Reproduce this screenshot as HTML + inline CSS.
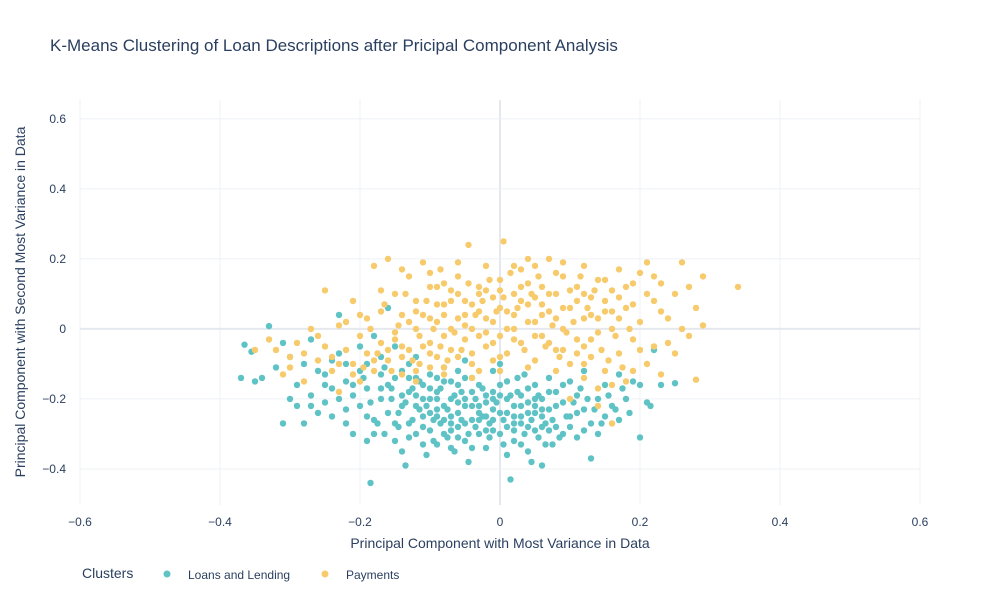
<!DOCTYPE html>
<html><head><meta charset="utf-8"><style>
body{margin:0;background:#fff;font-family:"Liberation Sans",sans-serif;}
svg text{font-family:"Liberation Sans",sans-serif;fill:#2a3f5f;}
</style></head><body>
<svg id="chart" width="1000" height="600">
<rect width="1000" height="600" fill="#fff"/>
<text x="50" y="51" font-size="17">K-Means Clustering of Loan Descriptions after Pricipal Component Analysis</text>
<g id="grid"></g>
<g id="marks"></g>
<g id="ticks"></g>
<text x="500" y="548" font-size="14" text-anchor="middle">Principal Component with Most Variance in Data</text>
<text transform="translate(25,302) rotate(-90)" font-size="14" text-anchor="middle">Principal Component with Second Most Variance in Data</text>
<g>
<text x="82" y="578" font-size="14">Clusters</text>
<g><circle cx="167" cy="574" r="3.5" fill="#5fc3c6"/><text x="188" y="579" font-size="12">Loans and Lending</text></g>
<g><circle cx="325" cy="574" r="3.5" fill="#f7cb6c"/><text x="346" y="579" font-size="12">Payments</text></g>
</g>
</svg>
<script>
const xTicks=[-0.6,-0.4,-0.2,0,0.2,0.4,0.6];
const yTicks=[-0.4,-0.2,0,0.2,0.4,0.6];
const loansX1=[-0.37,-0.365,-0.355,-0.35,-0.34,-0.33,-0.32,-0.31,-0.31,-0.3,-0.3,-0.29,-0.29,-0.28,-0.28,-0.27,-0.27,-0.26,-0.25,-0.25,-0.24,-0.24,-0.23,-0.23,-0.22,-0.22,-0.21,-0.21,-0.2,-0.2,-0.19,-0.19,-0.185,-0.18,-0.18,-0.17,-0.17,-0.16,-0.16,-0.15,-0.15,-0.14,-0.14,-0.135,-0.13,-0.13,-0.12,-0.12,-0.11,-0.11,-0.105,-0.1,-0.1,-0.1,-0.09,-0.09,-0.085,-0.08,-0.08,-0.075,-0.07,-0.07,-0.065,-0.06,-0.06,-0.055,-0.05,-0.05,-0.045,-0.04,-0.04,-0.035,-0.03,-0.03,-0.025,-0.02,-0.02,-0.015,-0.01,-0.01,0,0,0.005,0.01,0.01,0.015,0.02,0.02,0.025,0.03,0.03,0.035,0.04,0.04,0.045,0.05,0.05,0.055,0.06,0.06,0.065,0.07,0.07,0.075,0.08,0.08,0.09,0.09,0.1,0.1,0.11,0.11,0.12,0.12,0.13,0.13,0.14,0.14,0.15,0.15,0.16,0.17,0.17,0.18,0.19,0.2,0.2,0.21,0.215,0.23,0.25,0.22,-0.16,-0.14,-0.13,-0.12,-0.11,-0.1,-0.09,-0.09,-0.08,-0.07,-0.07,-0.06,-0.05,-0.04,-0.03,-0.02,-0.01,-0.01,0.01,0.02,0.03,0.04,0.05,0.06,0.07,-0.17,-0.19,-0.2,-0.22,-0.18,-0.15,-0.12,-0.05,0,-0.06,-0.095,-0.115,-0.125,-0.145,-0.155];
const loansY1=[-0.14,-0.045,-0.065,-0.15,-0.14,0.008,-0.11,-0.04,-0.27,-0.2,-0.08,-0.16,-0.22,-0.27,-0.1,-0.03,-0.19,-0.24,-0.13,-0.21,-0.17,-0.25,-0.07,0.04,-0.27,-0.15,-0.19,-0.3,-0.12,-0.22,-0.32,-0.17,-0.44,-0.26,-0.3,-0.08,-0.2,0.06,-0.24,-0.14,-0.32,-0.35,-0.19,-0.39,-0.27,-0.1,-0.22,-0.3,-0.16,-0.25,-0.36,-0.13,-0.2,-0.29,-0.23,-0.33,-0.17,-0.26,-0.11,-0.31,-0.2,-0.15,-0.35,-0.24,-0.28,-0.18,-0.22,-0.32,-0.38,-0.14,-0.26,-0.2,-0.3,-0.24,-0.17,-0.34,-0.21,-0.27,-0.12,-0.23,-0.3,-0.19,-0.26,-0.36,-0.15,-0.43,-0.22,-0.29,-0.18,-0.25,-0.33,-0.13,-0.21,-0.28,-0.38,-0.16,-0.24,-0.31,-0.2,-0.39,-0.27,-0.14,-0.23,-0.33,-0.18,-0.28,-0.21,-0.3,-0.15,-0.25,-0.19,-0.31,-0.23,-0.12,-0.37,-0.27,-0.2,-0.3,-0.16,-0.25,-0.22,-0.13,-0.26,-0.2,-0.15,-0.31,-0.16,-0.21,-0.22,-0.16,-0.155,-0.06,-0.16,-0.22,-0.18,-0.14,-0.2,-0.24,-0.18,-0.14,-0.22,-0.25,-0.29,-0.16,-0.27,-0.18,-0.22,-0.25,-0.18,-0.29,-0.2,-0.25,-0.19,-0.24,-0.2,-0.25,-0.29,-0.13,-0.1,-0.05,-0.1,-0.02,-0.05,-0.08,-0.09,-0.1,-0.12,-0.26,-0.23,-0.17,-0.28,-0.2];
const loansX2=[-0.195,-0.185,-0.175,-0.165,-0.165,-0.155,-0.145,-0.14,-0.135,-0.13,-0.125,-0.12,-0.115,-0.11,-0.105,-0.1,-0.095,-0.09,-0.085,-0.08,-0.075,-0.07,-0.065,-0.06,-0.055,-0.05,-0.045,-0.04,-0.035,-0.03,-0.025,-0.02,-0.015,-0.01,-0.005,0,0.005,0.01,0.015,0.02,0.025,0.03,0.035,0.04,0.045,0.05,0.055,0.06,0.065,0.07,0.075,0.08,0.085,0.09,0.095,0.1,0.105,0.11,0.115,0.12,0.125,0.135,0.145,0.155,0.165,0.175,0.185,-0.21,-0.23,-0.25,-0.27,-0.26,-0.22,-0.24,-0.19,-0.17,-0.15,-0.13,-0.11,-0.08,-0.06,-0.04,-0.02,0,0.02,0.04,0.06,-0.09,-0.07,-0.05,-0.03,-0.01,0.01,0.03,0.05];
const loansY2=[-0.14,-0.21,-0.27,-0.11,-0.3,-0.17,-0.24,-0.12,-0.21,-0.31,-0.26,-0.19,-0.15,-0.28,-0.22,-0.17,-0.32,-0.2,-0.27,-0.15,-0.23,-0.34,-0.19,-0.21,-0.26,-0.14,-0.3,-0.22,-0.28,-0.16,-0.25,-0.19,-0.31,-0.26,-0.21,-0.16,-0.33,-0.24,-0.19,-0.27,-0.14,-0.22,-0.3,-0.17,-0.26,-0.29,-0.19,-0.23,-0.33,-0.18,-0.26,-0.22,-0.31,-0.16,-0.25,-0.28,-0.21,-0.24,-0.17,-0.29,-0.2,-0.23,-0.27,-0.19,-0.23,-0.17,-0.24,-0.16,-0.2,-0.16,-0.22,-0.12,-0.23,-0.09,-0.25,-0.17,-0.27,-0.14,-0.33,-0.3,-0.31,-0.34,-0.29,-0.24,-0.32,-0.35,-0.28,-0.25,-0.27,-0.2,-0.26,-0.2,-0.28,-0.27,-0.22];
const payX1=[-0.35,-0.33,-0.31,-0.3,-0.29,-0.28,-0.27,-0.26,-0.25,-0.25,-0.24,-0.23,-0.23,-0.22,-0.21,-0.21,-0.2,-0.2,-0.19,-0.19,-0.18,-0.18,-0.17,-0.17,-0.16,-0.16,-0.15,-0.15,-0.14,-0.14,-0.13,-0.13,-0.12,-0.12,-0.115,-0.11,-0.11,-0.1,-0.1,-0.09,-0.09,-0.085,-0.08,-0.08,-0.07,-0.07,-0.06,-0.06,-0.05,-0.05,-0.045,-0.04,-0.04,-0.03,-0.03,-0.02,-0.02,-0.01,-0.01,0,0,0.005,0.01,0.01,0.02,0.02,0.03,0.03,0.04,0.04,0.05,0.05,0.06,0.06,0.07,0.07,0.08,0.08,0.09,0.09,0.1,0.1,0.11,0.11,0.12,0.12,0.13,0.13,0.14,0.14,0.15,0.15,0.16,0.16,0.17,0.17,0.18,0.18,0.19,0.19,0.2,0.2,0.21,0.21,0.22,0.22,0.23,0.23,0.24,0.25,0.25,0.26,0.26,0.27,0.28,0.28,0.29,0.29,0.34,0.16,0.14,0.1,-0.15,-0.13,-0.11,-0.1,-0.09,-0.08,-0.07,-0.06,-0.05,-0.04,-0.03,-0.02,-0.01,0,0.02,0.03,0.05,0.06,0.08,-0.12,-0.16,-0.18,-0.2,-0.08,-0.03,0,0.04,0.07,0.09,0.12,0.13,0.15,0.17,0.11,-0.14,-0.1];
const payY1=[-0.06,-0.03,-0.13,-0.08,-0.04,-0.15,0,-0.09,0.11,-0.05,-0.12,0.01,-0.18,-0.06,0.08,-0.1,-0.02,-0.15,0.03,-0.07,0.18,-0.12,0.05,-0.04,0.2,-0.09,0.1,-0.01,-0.13,0.04,0.15,-0.06,0,0.08,-0.1,0.19,0.04,-0.04,0.12,0.02,-0.08,0.17,0.07,-0.02,0.11,-0.06,0.03,0.15,-0.03,0.08,0.24,0,-0.1,0.12,0.05,-0.05,0.18,0.02,0.09,-0.02,0.14,0.25,0.05,-0.07,0.1,0,0.17,-0.04,0.07,0.2,0.02,-0.09,0.12,-0.02,0.2,0.05,-0.06,0.1,0,0.15,-0.1,0.06,0.12,-0.03,0.18,0.03,-0.08,0.09,0.14,-0.01,0.05,-0.12,0.11,0,0.17,-0.07,0.06,-0.15,0.13,-0.03,0.02,0.16,-0.1,0.19,0.08,-0.05,0.13,-0.13,0.03,0.1,-0.07,0.19,0,0.12,0.06,-0.145,0.15,0.01,0.12,-0.27,-0.22,-0.2,-0.03,0.02,-0.05,0.03,0.07,-0.11,0,-0.08,0.04,0.07,-0.02,0.03,-0.09,0.06,0.04,0.08,0.09,0.04,0.03,-0.12,-0.06,-0.09,0.04,0.13,0.1,0.11,0.13,-0.04,-0.06,-0.05,0.04,0.08,0.03,0.08,-0.08,-0.07];
const payX2=[-0.195,-0.185,-0.175,-0.165,-0.155,-0.145,-0.14,-0.135,-0.125,-0.12,-0.115,-0.105,-0.1,-0.095,-0.09,-0.085,-0.08,-0.075,-0.07,-0.065,-0.06,-0.055,-0.05,-0.045,-0.04,-0.035,-0.03,-0.025,-0.02,-0.015,-0.01,-0.005,0,0.005,0.01,0.015,0.02,0.025,0.03,0.035,0.04,0.045,0.05,0.055,0.06,0.065,0.07,0.075,0.08,0.085,0.09,0.095,0.1,0.105,0.11,0.115,0.12,0.125,0.13,0.135,0.14,0.145,0.15,0.155,0.16,0.165,0.17,0.175,0.18,0.185,0.19,0.2,0.21,0.22,0.24,0.23,0.27,-0.22,-0.24,-0.26,-0.28,-0.3,-0.32,-0.21,-0.23,-0.17,-0.14,-0.1,-0.06,-0.02,0.02,0.05,0.09,0.12,-0.12,-0.08,-0.04,0,0.04,0.08,0.12,0.16,0.19,0.14];
const payY2=[-0.11,0,-0.07,0.07,-0.12,0.01,-0.05,0.1,-0.09,0.05,-0.02,0.08,-0.11,0,0.12,-0.05,0.04,-0.09,0.08,-0.01,0.1,-0.06,0.01,0.13,-0.07,0.04,-0.12,0.08,-0.01,0.14,-0.04,0.05,-0.08,0.09,0,0.16,-0.03,0.06,0.12,-0.06,0.02,0.1,-0.02,0.15,0.07,-0.05,0.1,0.01,0.16,-0.08,0.06,-0.01,0.11,0.02,-0.07,0.15,-0.1,0.06,-0.03,0.11,0.03,-0.06,0.14,-0.09,0.05,-0.02,0.09,-0.11,0.12,0,0.07,-0.06,0.1,0.15,-0.04,0.05,-0.02,0.02,-0.08,-0.02,-0.07,-0.11,-0.06,-0.13,-0.1,0.11,0.17,0.16,0.19,0.11,0.18,0.18,0.19,0.1,-0.15,-0.13,-0.14,-0.12,-0.11,-0.12,-0.14,-0.16,-0.12,-0.17];
const loansX=loansX1.concat(loansX2),loansY=loansY1.concat(loansY2);
const payX=payX1.concat(payX2),payY=payY1.concat(payY2);
const X0=-0.6,X1=0.6,PX0=80,PX1=920,Y0=-0.503,Y1=0.654,PY0=505,PY1=100;
const sx=v=>PX0+(v-X0)/(X1-X0)*(PX1-PX0);
const sy=v=>PY0+(v-Y0)/(Y1-Y0)*(PY1-PY0);
const NS='http://www.w3.org/2000/svg';
const grid=document.getElementById('grid'),ticks=document.getElementById('ticks'),marks=document.getElementById('marks');
function mk(tag,attrs,parent){const e=document.createElementNS(NS,tag);for(const k in attrs)e.setAttribute(k,attrs[k]);parent.appendChild(e);return e;}
const fmt=v=>v===0?'0':(v<0?'\u2212'+Math.abs(v):String(v));
xTicks.forEach(v=>{
  const l=mk('line',{x1:sx(v),x2:sx(v),y1:PY1,y2:PY0,stroke:v===0?'#e5e8ee':'#eef0f5','stroke-width':v===0?2:1},grid);
  
  
  const t=mk('text',{x:sx(v),y:PY0+21,'font-size':12,'text-anchor':'middle'},ticks);t.textContent=fmt(v);
  
  
});
yTicks.forEach(v=>{
  const l=mk('line',{x1:PX0,x2:PX1,y1:sy(v),y2:sy(v),stroke:v===0?'#e5e8ee':'#eef0f5','stroke-width':v===0?2:1},grid);
  
  
  const t=mk('text',{x:PX0-14,y:sy(v)+4,'font-size':12,'text-anchor':'end'},ticks);t.textContent=fmt(v);
  
  
});
loansX.forEach((x,i)=>{
  const c=mk('circle',{cx:sx(x),cy:sy(loansY[i]),r:3.2,fill:'#5fc3c6'},marks);
  
  
});
payX.forEach((x,i)=>{
  const c=mk('circle',{cx:sx(x),cy:sy(payY[i]),r:3.2,fill:'#f7cb6c'},marks);
  
  
});
</script>
</body></html>
